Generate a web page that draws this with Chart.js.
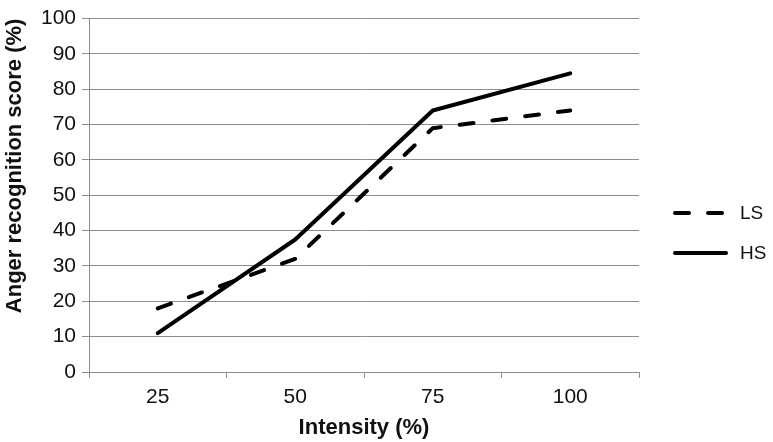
<!DOCTYPE html>
<html>
<head>
<meta charset="utf-8">
<script src="https://cdn.jsdelivr.net/npm/chart.js@4/dist/chart.umd.min.js"></script>
<style>
  html, body { margin: 0; padding: 0; background: #fff; }
  #wrap { width: 773px; height: 442px; position: relative; }
</style>
</head>
<body>
<div id="wrap"><canvas id="angerChart"></canvas></div>
<script>
// values
const intensities = ["25", "50", "75", "100"]
const lsScores = [18, 32, 69, 74]
const hsScores = [11, 37.5, 74, 84.5]
const yTicks = { min: 0, max: 100, step: 10 }

const gridGray = "#8e8e8e"
const textBlack = "#111"

Chart.defaults.font.family = '"Liberation Sans", Arial, Helvetica, sans-serif'
Chart.defaults.color = textBlack

// legend at the right, drawn by hand so the line samples sit where Excel put them
const sideLegend = {
  id: "sideLegend",
  afterDraw(chart) {
    const { ctx, chartArea } = chart
    const x0 = chartArea.right + 36
    const yMid = 233
    ctx.save()
    ctx.font = '19px "Liberation Sans", Arial, Helvetica, sans-serif'
    ctx.textBaseline = "middle"
    ctx.textAlign = "left"
    chart.data.datasets.forEach((ds, i) => {
      const y = yMid - 20 + i * 40
      ctx.beginPath()
      ctx.setLineDash(ds.borderDash || [])
      ctx.lineWidth = ds.borderWidth
      ctx.lineCap = ds.borderCapStyle
      ctx.strokeStyle = ds.borderColor
      ctx.moveTo(x0, y)
      ctx.lineTo(x0 + 51, y)
      ctx.stroke()
      ctx.setLineDash([])
      ctx.fillStyle = textBlack
      ctx.fillText(ds.label, x0 + 65, y + 1)
    })
    ctx.restore()
  },
}

function initializeAngerChart() {
  const ctx = document.getElementById("angerChart")
  if (!ctx) return

  new Chart(ctx, {
    type: "line",
    data: {
      labels: intensities,
      datasets: [
        {
          label: "LS",
          data: lsScores,
          borderColor: "#000",
          borderWidth: 4,
          borderDash: [14, 19],
          borderCapStyle: "round",
          borderJoinStyle: "round",
          pointRadius: 0,
          tension: 0,
          fill: false,
        },
        {
          label: "HS",
          data: hsScores,
          borderColor: "#000",
          borderWidth: 4,
          borderCapStyle: "round",
          borderJoinStyle: "round",
          pointRadius: 0,
          tension: 0,
          fill: false,
        },
      ],
    },
    plugins: [sideLegend],
    options: {
      responsive: true,
      maintainAspectRatio: false,
      animation: false,
      layout: {
        padding: { top: 14, right: 134, bottom: 0, left: 0 },
      },
      plugins: {
        legend: { display: false },
        tooltip: { enabled: false },
      },
      scales: {
        x: {
          offset: true,
          afterFit(scale) {
            scale.height = 70
          },
          grid: {
            offset: true,
            drawOnChartArea: false,
            drawTicks: true,
            tickLength: 6,
            color: gridGray,
          },
          border: { display: true, color: gridGray, width: 1 },
          ticks: {
            color: textBlack,
            padding: 7,
            font: { size: 21 },
          },
          title: {
            display: true,
            text: "Intensity (%)",
            color: textBlack,
            font: { size: 22, weight: "bold" },
            padding: { top: 0, bottom: 1 },
          },
        },
        y: {
          min: yTicks.min,
          max: yTicks.max,
          afterFit(scale) {
            scale.width = 89
          },
          grid: {
            color: gridGray,
            lineWidth: 1,
            drawTicks: true,
            tickLength: 7,
          },
          border: { display: true, color: gridGray, width: 1 },
          ticks: {
            stepSize: yTicks.step,
            color: textBlack,
            padding: 6,
            font: { size: 21 },
          },
          title: {
            display: true,
            text: "Anger recognition score (%)",
            align: "end",
            color: textBlack,
            font: { size: 22, weight: "bold" },
            padding: { top: 2, bottom: 0 },
          },
        },
      },
    },
  })
}

initializeAngerChart()
</script>
</body>
</html>
